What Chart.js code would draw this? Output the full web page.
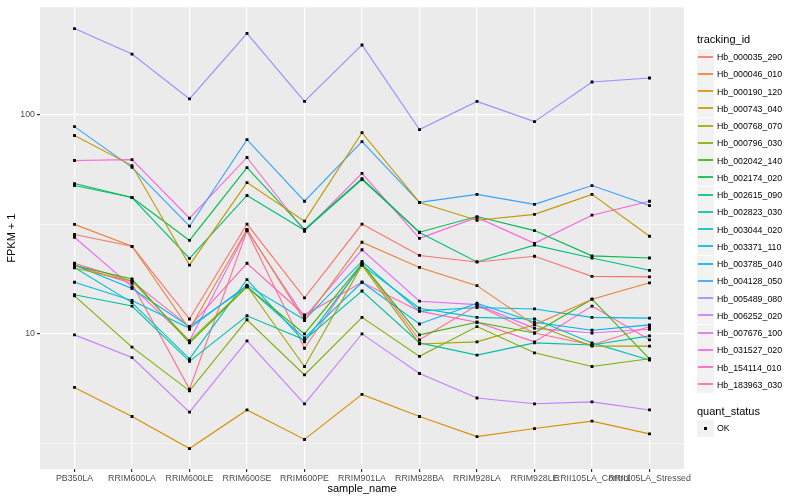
<!DOCTYPE html>
<html>
<head>
<meta charset="utf-8">
<title>FPKM + 1 by sample</title>
<script src="https://cdn.jsdelivr.net/npm/chart.js@4.4.1/dist/chart.umd.min.js"></script>
<style>
    html, body { margin: 0; padding: 0; background: #fff; }
    #wrap { position: relative; width: 800px; height: 500px; font-family: "Liberation Sans", Arial, sans-serif; }
    #orderChart { position: absolute; left: 0; top: 0; }
    .legend-title { position: absolute; left: 697px; font-size: 11px; line-height: 13px; color: #000; white-space: nowrap; }
    .key { position: absolute; left: 697px; width: 17px; height: 17px; background: #F2F2F2; }
    .key span { position: absolute; left: 1px; right: 1px; top: 7px; height: 2px; opacity: 0.85; }
    .key i { position: absolute; left: 7px; top: 7px; width: 3px; height: 3px; background: #000; }
    .lab { position: absolute; left: 717px; font-size: 8.8px; line-height: 10px; color: #000; white-space: nowrap; }
</style>
</head>
<body>
<div id="wrap">
    <canvas id="orderChart" width="800" height="500"></canvas>
    <div id="legend"></div>
</div>
<script>
// sample names on the x axis
const categories = ['PB350LA', 'RRIM600LA', 'RRIM600LE', 'RRIM600SE', 'RRIM600PE', 'RRIM901LA',
    'RRIM928BA', 'RRIM928LA', 'RRIM928LE', 'RRII105LA_Control', 'RRII105LA_Stressed'];

// FPKM + 1 per tracking_id
const hb_000035_290 = [28.4, 25.1, 11.7, 31.7, 14.6, 31.7, 22.8, 21.3, 22.6, 18.3, 18.2];
const hb_000046_010 = [31.6, 25.1, 10.5, 30.0, 11.5, 26.2, 20.1, 16.6, 11.0, 14.4, 17.1];
const hb_000190_120 = [5.7, 4.2, 3.0, 4.5, 3.3, 5.3, 4.2, 3.4, 3.7, 4.0, 3.5];
const hb_000743_040 = [80.4, 58.6, 20.6, 49.0, 32.7, 82.8, 39.8, 33.0, 35.1, 43.3, 27.9];
const hb_000768_070 = [20.0, 17.4, 9.3, 16.5, 7.1, 20.6, 9.0, 9.2, 11.0, 8.8, 8.8];
const hb_000796_030 = [14.9, 8.7, 5.5, 11.6, 6.5, 11.9, 7.9, 10.8, 8.2, 7.1, 7.7];
const hb_002042_140 = [20.5, 17.8, 9.1, 16.4, 10.0, 20.9, 9.9, 11.3, 10.1, 14.4, 7.7];
const hb_002174_020 = [48.5, 41.9, 26.7, 57.3, 30.0, 51.1, 29.1, 34.3, 29.6, 22.7, 22.2];
const hb_002615_090 = [47.5, 41.9, 22.1, 42.8, 29.7, 50.6, 29.0, 21.3, 25.4, 22.2, 19.5];
const hb_002823_030 = [15.1, 13.4, 7.5, 12.1, 9.4, 15.7, 9.1, 8.0, 9.1, 8.9, 9.8];
const hb_003044_020 = [20.1, 13.9, 7.7, 17.7, 9.2, 20.6, 13.1, 11.9, 11.7, 9.1, 7.6];
const hb_003371_110 = [17.2, 14.2, 10.6, 16.7, 11.6, 21.4, 12.7, 13.2, 13.0, 11.9, 11.8];
const hb_003785_040 = [20.6, 16.1, 10.8, 16.4, 9.6, 17.2, 11.1, 13.8, 11.3, 10.4, 11.0];
const hb_004128_050 = [88.2, 57.5, 31.0, 77.0, 40.3, 75.4, 39.8, 43.3, 39.0, 47.5, 38.5];
const hb_005489_080 = [247, 189, 118, 235, 115, 208, 85.5, 115, 93, 141, 147];
const hb_006252_020 = [9.9, 7.8, 4.4, 9.3, 4.8, 10.0, 6.6, 5.1, 4.8, 4.9, 4.5];
const hb_007676_100 = [27.6, 16.4, 9.3, 29.7, 11.9, 24.2, 14.1, 13.6, 10.6, 10.1, 10.5];
const hb_031527_020 = [61.8, 62.4, 33.7, 63.8, 29.4, 54.0, 27.3, 34.0, 25.9, 34.8, 40.3];
const hb_154114_010 = [21.0, 17.4, 10.8, 21.0, 12.2, 17.2, 12.7, 11.3, 9.2, 13.4, 9.4];
const hb_183963_030 = [20.6, 17.0, 5.6, 29.5, 8.6, 21.0, 9.4, 13.5, 10.1, 8.9, 10.8];

const trackingIds = ['Hb_000035_290', 'Hb_000046_010', 'Hb_000190_120', 'Hb_000743_040', 'Hb_000768_070',
    'Hb_000796_030', 'Hb_002042_140', 'Hb_002174_020', 'Hb_002615_090', 'Hb_002823_030',
    'Hb_003044_020', 'Hb_003371_110', 'Hb_003785_040', 'Hb_004128_050', 'Hb_005489_080',
    'Hb_006252_020', 'Hb_007676_100', 'Hb_031527_020', 'Hb_154114_010', 'Hb_183963_030'];

const seriesValues = [hb_000035_290, hb_000046_010, hb_000190_120, hb_000743_040, hb_000768_070,
    hb_000796_030, hb_002042_140, hb_002174_020, hb_002615_090, hb_002823_030,
    hb_003044_020, hb_003371_110, hb_003785_040, hb_004128_050, hb_005489_080,
    hb_006252_020, hb_007676_100, hb_031527_020, hb_154114_010, hb_183963_030];

// ggplot hue palette, 20 levels
const seriesColors = ['#F8766D', '#EA8331', '#D89000', '#C09B00', '#A3A500', '#7CAE00', '#39B600',
    '#00BB4E', '#00BF7D', '#00C1A3', '#00BFC4', '#00BAE0', '#00B0F6', '#35A2FF', '#9590FF',
    '#C77CFF', '#E76BF3', '#FA62DB', '#FF62BC', '#FF6C91'];

// y ticks: labelled majors and unlabelled minors
const yMajorTicks = [10, 100];
const yMinorTicks = [3.1623, 31.623];

document.addEventListener('DOMContentLoaded', function() {
    // Legend (html)
    const legend = document.getElementById('legend');
    let html = '<div class="legend-title" style="top:33px">tracking_id</div>';
    trackingIds.forEach(function(id, i) {
        const cy = 57 + i * 17.26;
        html += '<div class="key" style="top:' + Math.round(cy - 8.5) + 'px"><span style="background:' + seriesColors[i] + '"></span></div>';
        html += '<div class="lab" style="top:' + Math.round(cy - 5) + 'px">' + id + '</div>';
    });
    html += '<div class="legend-title" style="top:405px">quant_status</div>';
    html += '<div class="key" style="top:420px"><i></i></div>';
    html += '<div class="lab" style="top:423px">OK</div>';
    legend.innerHTML = html;

    const lineSets = seriesValues.map(function(vals, i) {
        return {
            label: trackingIds[i],
            data: vals.map(function(v, j) { return { x: j, y: v }; }),
            borderColor: seriesColors[i],
            borderWidth: 1.1,
            pointRadius: 0,
            tension: 0,
            order: 0
        };
    });

    // all points on top of the lines, like geom_point after geom_line
    const pointSet = {
        label: 'OK',
        data: [],
        showLine: false,
        pointStyle: 'rect',
        pointRadius: 2,
        backgroundColor: '#000',
        borderColor: '#000',
        borderWidth: 0,
        order: -1
    };
    seriesValues.forEach(function(vals) {
        vals.forEach(function(v, j) { pointSet.data.push({ x: j, y: v }); });
    });

    const panelBg = {
        id: 'panelBg',
        beforeDraw: function(chart) {
            const a = chart.chartArea;
            const c = chart.ctx;
            c.save();
            c.fillStyle = '#EBEBEB';
            c.fillRect(a.left, a.top, a.right - a.left, a.bottom - a.top);
            c.restore();
        }
    };

    const ctx = document.getElementById('orderChart').getContext('2d');
    new Chart(ctx, {
        type: 'line',
        data: { datasets: lineSets.concat([pointSet]) },
        plugins: [panelBg],
        options: {
            responsive: false,
            animation: false,
            layout: { padding: { top: 5, right: 116, left: 0, bottom: 0 } },
            plugins: {
                legend: { display: false },
                tooltip: { enabled: false }
            },
            scales: {
                x: {
                    type: 'linear',
                    min: -0.6,
                    max: 10.6,
                    afterBuildTicks: function(scale) {
                        scale.ticks = categories.map(function(c, i) { return { value: i }; });
                    },
                    afterFit: function(scale) { scale.height = 31; },
                    border: { display: false },
                    grid: { color: '#FFFFFF', lineWidth: 1.2, tickLength: 3, tickColor: '#333333' },
                    ticks: {
                        autoSkip: false,
                        maxRotation: 0,
                        padding: 1,
                        color: '#4D4D4D',
                        font: { size: 8.8, family: 'Liberation Sans' },
                        callback: function(value) { return categories[value]; }
                    },
                    title: {
                        display: true,
                        text: 'sample_name',
                        color: '#000',
                        font: { size: 11, family: 'Liberation Sans' },
                        padding: { top: 0, bottom: 4 }
                    }
                },
                y: {
                    type: 'logarithmic',
                    min: 2.42,
                    max: 309,
                    afterBuildTicks: function(scale) {
                        scale.ticks = yMinorTicks.concat(yMajorTicks).sort(function(a, b) { return a - b; })
                            .map(function(v) { return { value: v, major: yMajorTicks.indexOf(v) >= 0 }; });
                    },
                    afterFit: function(scale) { scale.width = 40; },
                    border: { display: false },
                    grid: {
                        color: '#FFFFFF',
                        lineWidth: function(c) { return yMajorTicks.indexOf(c.tick.value) >= 0 ? 1.2 : 0.6; },
                        tickLength: 3,
                        tickColor: function(c) { return yMajorTicks.indexOf(c.tick.value) >= 0 ? '#333333' : 'rgba(0,0,0,0)'; }
                    },
                    ticks: {
                        padding: 2,
                        color: '#4D4D4D',
                        font: { size: 8.8, family: 'Liberation Sans' },
                        callback: function(value) { return yMajorTicks.indexOf(value) >= 0 ? String(value) : ''; }
                    },
                    title: {
                        display: true,
                        text: 'FPKM + 1',
                        color: '#000',
                        font: { size: 11, family: 'Liberation Sans' },
                        padding: { top: 5, bottom: 0 }
                    }
                }
            }
        }
    });
});
</script>
</body>
</html>
